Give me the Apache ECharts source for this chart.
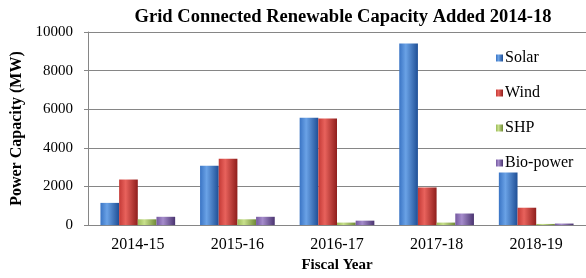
<!DOCTYPE html>
<html>
<head>
<meta charset="utf-8">
<script src="https://cdn.jsdelivr.net/npm/echarts@6/dist/echarts.min.js"></script>
<style>
  html, body { margin: 0; padding: 0; background: #fff; }
  #chart { width: 586px; height: 278px; }
</style>
</head>
<body>
<div id="chart"></div>
<script>
// fiscal years on x axis
var years = ['2014-15', '2015-16', '2016-17', '2017-18', '2018-19'];
// capacity added (MW)
var solar = [1150, 3080, 5560, 9400, 2720];
var wind = [2360, 3430, 5520, 1950, 900];
var shp = [300, 300, 130, 130, 60];
var bio = [430, 430, 230, 600, 80];

var serif = '"Liberation Serif", "DejaVu Serif", serif';

// cylinder-ish shading like the excel 3d bars
function shade(dark, light, mid) {
  return new echarts.graphic.LinearGradient(0, 0, 1, 0, [
    { offset: 0, color: mid },
    { offset: 0.35, color: light },
    { offset: 1, color: dark }
  ]);
}

function bar(name, data, dark, light, mid) {
  return {
    name: name,
    type: 'bar',
    data: data,
    barGap: '0%',
    barCategoryGap: '25%',
    itemStyle: { color: shade(dark, light, mid) }
  };
}

var chart = echarts.init(document.getElementById('chart'));
chart.setOption({
  animation: false,
  textStyle: { fontFamily: serif },
  title: {
    text: 'Grid Connected Renewable Capacity Added 2014-18',
    left: 338,
    textAlign: 'center',
    top: 3,
    textStyle: { fontFamily: serif, fontSize: 18.5, fontWeight: 'bold', color: '#000' }
  },
  legend: {
    orient: 'vertical',
    left: 491,
    top: 45,
    itemGap: 19,
    itemWidth: 7,
    itemHeight: 7,
    icon: 'rect',
    textStyle: { fontFamily: serif, fontSize: 16, color: '#000', padding: [0, 0, 0, -3] },
    data: ['Solar', 'Wind', 'SHP', 'Bio-power']
  },
  grid: {
    left: 88,
    top: 32,
    bottom: 46,
    right: -4
  },
  xAxis: {
    type: 'category',
    data: years,
    name: 'Fiscal Year',
    nameLocation: 'middle',
    nameGap: 28,
    nameTextStyle: { fontFamily: serif, fontSize: 15, fontWeight: 'bold', color: '#000' },
    axisLine: { lineStyle: { color: '#868686' } },
    axisTick: { show: false },
    axisLabel: { margin: 12, fontSize: 16, color: '#000', fontFamily: serif }
  },
  yAxis: {
    type: 'value',
    min: 0,
    max: 10000,
    interval: 2000,
    name: 'Power Capacity (MW)',
    nameLocation: 'middle',
    nameGap: 59,
    nameTextStyle: { fontFamily: serif, fontSize: 16, fontWeight: 'bold', color: '#000' },
    axisLine: { show: true, lineStyle: { color: '#868686' } },
    axisTick: { show: true, length: 4, lineStyle: { color: '#868686' } },
    axisLabel: {
      margin: 15, fontSize: 15, color: '#000', fontFamily: serif,
      formatter: function (v) { return String(v); }
    },
    splitLine: { lineStyle: { color: '#868686' } }
  },
  series: [
    bar('Solar', solar, '#1f4f96', '#6aa2e6', '#3a74c4'),
    bar('Wind', wind, '#8f1e1c', '#e8625c', '#c43a36'),
    bar('SHP', shp, '#6f8a36', '#c8e08c', '#9bbb59'),
    bar('Bio-power', bio, '#4a3470', '#a58ccb', '#7558a0')
  ]
});
</script>
</body>
</html>
